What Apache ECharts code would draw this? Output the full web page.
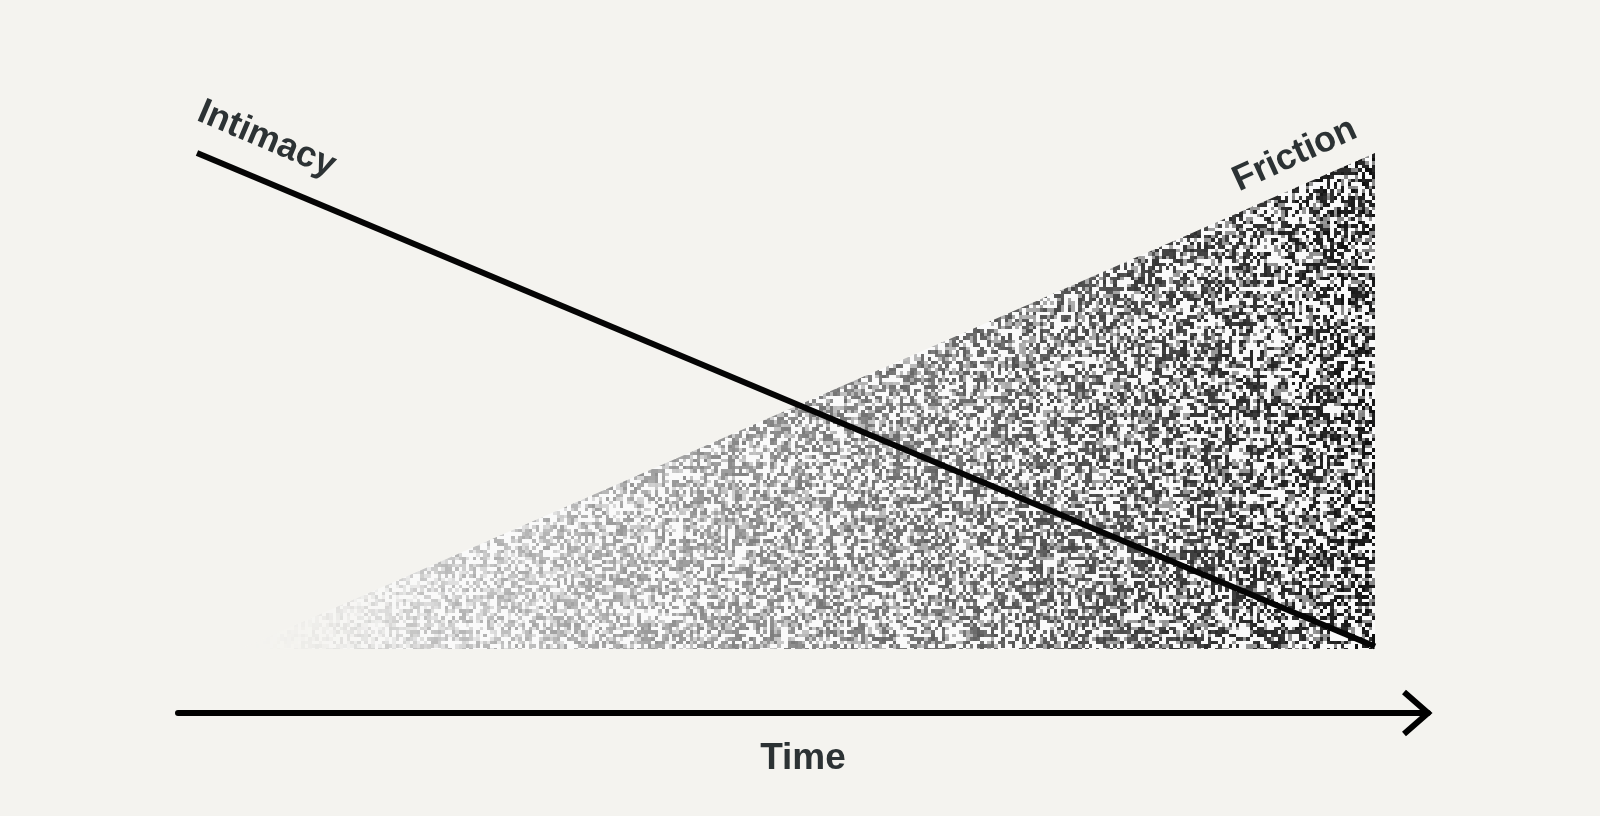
<!DOCTYPE html>
<html>
<head>
<meta charset="utf-8">
<script src="https://cdn.jsdelivr.net/npm/echarts@6/dist/echarts.min.js"></script>
<style>
html,body{margin:0;padding:0;background:#f4f3ef;}
#chart{width:1600px;height:816px;}
</style>
</head>
<body>
<div id="chart"></div>
<script>
// ---- data ----
const timeRange = [0, 100];
const intimacyX = [0, 100];
const intimacyY = [100, 0.5];
const frictionX = [3.7, 100];
const frictionY = [0, 100];
const seriesNames = ['Intimacy', 'Friction'];
const axisName = 'Time';
// label anchor points (data coords)
const intimacyLabelAt = [5.9, 102.8];
const frictionLabelAt = [93.2, 99.6];

// ---- deterministic noise texture (decorative fill only) ----
function hash(i, j, s) {
  let h = Math.imul(i, 374761393) ^ Math.imul(j, 668265263) ^ Math.imul(s, 1274126177);
  h = Math.imul(h ^ (h >>> 13), 1274126177);
  h = h ^ (h >>> 16);
  return (h >>> 0) / 4294967296;
}
function makeTexture(x0, x1) {
  const c = document.createElement('canvas');
  c.width = 1600; c.height = 816;
  const ctx = c.getContext('2d');
  const cell = 3.5;
  const i0 = Math.floor(x0 / cell), i1 = Math.ceil(x1 / cell) + 1;
  for (let i = i0; i < i1; i++) {
    const xa = Math.round(i * cell), xb = Math.round((i + 1) * cell);
    const x = (xa + xb) / 2;
    const t = Math.min(1, Math.max(0, (x - x0) / (x1 - x0)));
    const d = 226 - 200 * Math.pow(t, 1.1);
    const fade = Math.min(1, Math.max(0, (x - x0) / 230));
    const a = fade * fade * (3 - 2 * fade);
    for (let j = Math.floor(120 / cell); j * cell < 660; j++) {
      const ya = Math.round(j * cell), yb = Math.round((j + 1) * cell);
      const r = hash(i, j, 1);
      const r2 = hash(i, j, 2);
      let v;
      if (r < 0.4) v = 250;
      else if (r < 0.6) v = (d + 250) / 2 + (r2 - 0.5) * 20;
      else v = d + (r2 - 0.5) * 30;
      v = Math.max(0, Math.min(255, Math.round(v)));
      const br = 244, bg = 243, bb = 239;
      const R = Math.round(br + (v - br) * a);
      const G = Math.round(bg + (v - bg) * a);
      const B = Math.round(bb + (v - bb) * a);
      ctx.fillStyle = 'rgb(' + R + ',' + G + ',' + B + ')';
      ctx.fillRect(xa, ya, xb - xa, yb - ya);
    }
  }
  return c;
}

const chart = echarts.init(document.getElementById('chart'), null, {renderer: 'canvas'});
const textColor = '#2c3234';
const font = '"Liberation Sans", Arial, Helvetica, sans-serif';

const option = {
  backgroundColor: '#f4f3ef',
  animation: false,
  grid: [
    {left: 197, right: 225, top: 153, bottom: 167},
    {left: 178, right: 172, top: 690, bottom: 103}
  ],
  xAxis: [
    {gridIndex: 0, type: 'value', min: timeRange[0], max: timeRange[1], show: false},
    {gridIndex: 1, type: 'value', min: timeRange[0], max: timeRange[1],
     axisLine: {show: true, lineStyle: {color: '#000', width: 6}},
     axisTick: {show: false}, axisLabel: {show: false}, splitLine: {show: false},
     name: axisName, nameLocation: 'middle', nameGap: 27,
     nameTextStyle: {fontSize: 37, fontWeight: 'bold', color: textColor, fontFamily: font}}
  ],
  yAxis: [
    {gridIndex: 0, type: 'value', min: 0, max: 100, show: false},
    {gridIndex: 1, type: 'value', min: 0, max: 1, show: false}
  ],
  series: []
};
chart.setOption(option);

const pStart = chart.convertToPixel({gridIndex: 0}, [frictionX[0], frictionY[0]]);
const pEnd = chart.convertToPixel({gridIndex: 0}, [frictionX[1], frictionY[1]]);
const texture = makeTexture(pStart[0], pEnd[0]);

const tip = chart.convertToPixel({gridIndex: 1}, [timeRange[1], 0]);
const iL = chart.convertToPixel({gridIndex: 0}, intimacyLabelAt);
const fL = chart.convertToPixel({gridIndex: 0}, frictionLabelAt);

chart.setOption({
  series: [
    {
      name: seriesNames[1], type: 'line', xAxisIndex: 0, yAxisIndex: 0,
      data: frictionX.map((x, k) => [x, frictionY[k]]),
      showSymbol: false, symbol: 'none', clip: false, z: 1,
      lineStyle: {width: 0, opacity: 0},
      areaStyle: {color: {image: texture, repeat: 'no-repeat'}, opacity: 1, origin: 'start'}
    },
    {
      name: seriesNames[0], type: 'line', xAxisIndex: 0, yAxisIndex: 0,
      data: intimacyX.map((x, k) => [x, intimacyY[k]]),
      showSymbol: false, symbol: 'none', clip: false, z: 3,
      lineStyle: {color: '#050505', width: 6, cap: 'butt'}
    }
  ],
  graphic: [
    {type: 'polyline', z: 10,
     shape: {points: [[tip[0] - 24, tip[1] - 21], [tip[0], tip[1]], [tip[0] - 24, tip[1] + 21]]},
     style: {stroke: '#000', lineWidth: 6, fill: null, lineJoin: 'miter'}},
    {type: 'text', x: iL[0], y: iL[1], rotation: -23 * Math.PI / 180, z: 10,
     style: {text: seriesNames[0], fill: textColor, font: 'bold 36px ' + font,
             align: 'center', verticalAlign: 'middle', textAlign: 'center', textVerticalAlign: 'middle'}},
    {type: 'text', x: fL[0], y: fL[1], rotation: 24.5 * Math.PI / 180, z: 10,
     style: {text: seriesNames[1], fill: textColor, font: 'bold 36px ' + font,
             align: 'center', verticalAlign: 'middle', textAlign: 'center', textVerticalAlign: 'middle'}}
  ]
});
</script>
</body>
</html>
